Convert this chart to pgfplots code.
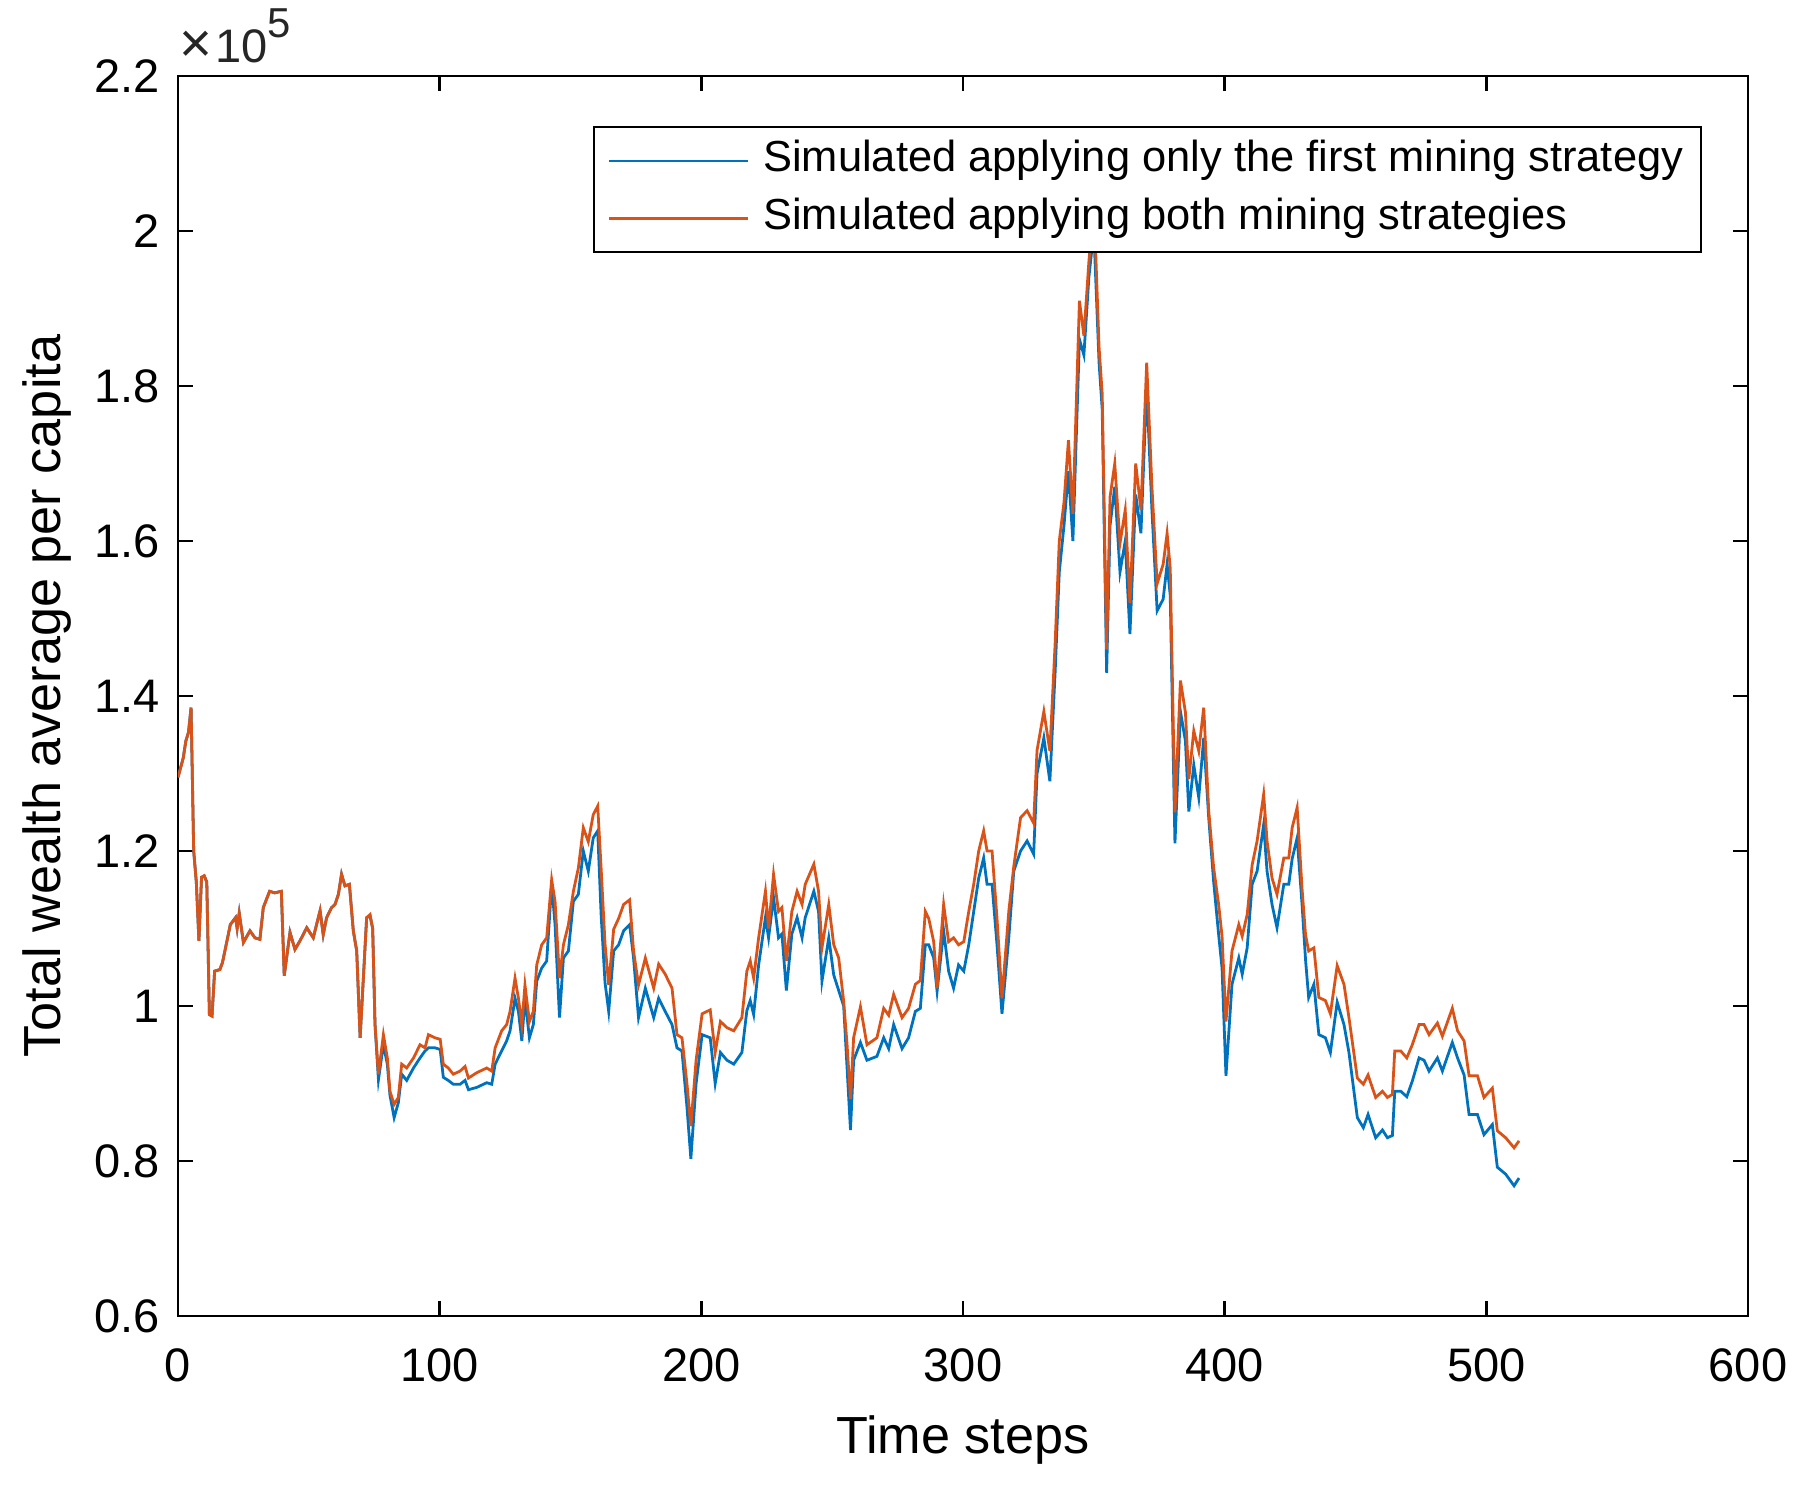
\documentclass[border=0pt]{standalone}
\usepackage{fontspec}
\setmainfont{Liberation Sans}
\usepackage{pgfplots}
\usepackage{pgfplotstable}
\pgfplotsset{compat=1.18}
\definecolor{mblue}{rgb}{0,0.447,0.741}
\definecolor{morange}{rgb}{0.85,0.325,0.098}

\pgfplotstableread{
x y
0 1.295
2 1.32
3 1.342
4 1.353
5 1.385
6 1.20
7 1.16
8 1.084
9 1.166
10 1.168
11 1.16
12 0.989
13 0.987
14 1.045
16 1.047
17 1.056
20 1.105
22 1.114
22.6 1.10
23.4 1.12
25 1.082
27.5 1.097
29.4 1.088
31.3 1.086
32.6 1.127
35 1.148
37 1.146
39.5 1.148
40.6 1.039
42.8 1.095
44.7 1.073
46.6 1.084
49.2 1.101
51.7 1.088
54.3 1.123
55.5 1.092
56.8 1.114
58.7 1.127
60 1.131
61.3 1.144
62.5 1.17
63.8 1.155
65.5 1.157
67 1.097
68.3 1.071
69.6 0.959
72.1 1.114
73.4 1.116
74.4 1.10
75.3 0.976
76.6 0.905
78.5 0.950
80 0.925
81 0.885
82.6 0.856
84.2 0.875
85.5 0.912
87.4 0.904
90 0.920
92.5 0.933
94.4 0.942
95.7 0.946
98.2 0.946
100.2 0.944
101.4 0.908
103.3 0.904
105.2 0.899
107.8 0.899
109.7 0.904
111 0.892
114.2 0.895
118 0.901
119.9 0.899
121.2 0.925
123.7 0.942
125.6 0.955
126.9 0.968
128.8 1.010
130.1 0.993
131.4 0.955
132.6 1.010
134.3 0.959
135.8 0.976
137.1 1.032
139 1.049
140.9 1.058
142.8 1.157
144.1 1.105
145.8 0.985
147.3 1.062
149.2 1.071
151.1 1.135
153 1.144
154.9 1.200
156.8 1.174
158.7 1.217
160.4 1.226
161.7 1.118
163.2 1.030
164.6 0.993
166.5 1.071
168.4 1.079
170.3 1.097
172.6 1.105
174.1 1.062
176 0.985
178.6 1.023
181.8 0.985
183.7 1.010
186.2 0.993
188.8 0.976
190.7 0.946
192.6 0.942
194.5 0.870
196 0.803
198 0.900
200.3 0.963
203.4 0.959
205.3 0.900
207.3 0.940
209.8 0.930
212.4 0.925
215.5 0.940
217.4 0.994
218.7 1.007
220 0.989
221.9 1.053
224.5 1.114
225.7 1.088
227.6 1.140
229.5 1.088
230.8 1.093
232.5 1.020
234.6 1.093
236.6 1.114
238.5 1.088
239.7 1.114
243 1.148
244.8 1.122
246.1 1.032
248.7 1.088
250.6 1.040
252.5 1.020
254.4 1.000
255.7 0.920
257 0.840
258.2 0.930
260.8 0.953
263.3 0.930
267.1 0.935
269.7 0.959
271.6 0.945
273.5 0.976
276.7 0.945
279.2 0.959
281.8 0.993
283.7 0.997
285.6 1.079
286.9 1.079
288.8 1.062
290.1 1.019
292.6 1.097
294.5 1.045
296.4 1.023
298.3 1.053
300.3 1.045
302.2 1.079
304.1 1.122
306 1.165
307.9 1.191
309.2 1.157
311.1 1.157
313 1.079
314.9 0.990
317.5 1.088
319.4 1.174
322 1.200
324.5 1.213
327 1.196
328.3 1.300
330.9 1.346
333.2 1.290
335.2 1.430
336.8 1.560
338.6 1.620
340.3 1.690
342 1.600
344.5 1.860
346.2 1.840
348.1 1.940
350 2.000
352 1.830
353.2 1.770
354.9 1.430
356.2 1.620
358 1.670
360 1.560
362 1.600
363.8 1.480
366 1.660
368 1.610
370.2 1.800
372.2 1.640
374.2 1.510
376.5 1.525
378 1.570
379.2 1.530
381 1.210
383.1 1.380
385 1.342
386.3 1.251
388.2 1.311
390.1 1.269
392 1.346
393.9 1.243
395.8 1.160
397.7 1.092
399 1.049
400.5 0.910
402.8 1.028
405.4 1.062
406.7 1.041
408.6 1.075
410.5 1.157
412.4 1.174
414.9 1.234
416.2 1.174
418.1 1.131
420 1.101
422.6 1.157
424.5 1.157
425.8 1.190
427.7 1.217
429.6 1.130
430.9 1.060
432.1 1.011
434.1 1.028
436 0.963
438.5 0.959
440.4 0.940
443 1.005
445.6 0.976
447.5 0.940
450.7 0.856
453 0.843
454.8 0.860
457.7 0.830
460.3 0.840
462.2 0.830
464.1 0.833
465 0.890
467.3 0.890
469.6 0.883
471.7 0.903
474.3 0.933
476.2 0.930
478.1 0.916
481.3 0.933
483.2 0.916
487 0.953
489 0.933
491.5 0.911
493.4 0.860
496.6 0.860
499.1 0.834
502.3 0.847
504.2 0.792
507.4 0.783
510.6 0.768
512.5 0.778
}\first

\pgfplotstableread{
x y
0 1.295
2 1.32
3 1.342
4 1.353
5 1.385
6 1.20
7 1.16
8 1.084
9 1.166
10 1.168
11 1.16
12 0.989
13 0.987
14 1.045
16 1.047
17 1.056
20 1.105
22 1.114
22.6 1.10
23.4 1.12
25 1.082
27.5 1.097
29.4 1.088
31.3 1.086
32.6 1.127
35 1.148
37 1.146
39.5 1.148
40.6 1.039
42.8 1.095
44.7 1.073
46.6 1.084
49.2 1.101
51.7 1.088
54.3 1.123
55.5 1.092
56.8 1.114
58.7 1.127
60 1.131
61.3 1.144
62.5 1.17
63.8 1.155
65.5 1.157
67 1.097
68.3 1.071
69.6 0.959
72.1 1.114
73.4 1.118
74.4 1.10
75.3 0.976
76.6 0.912
78.5 0.963
80 0.933
81 0.890
82.6 0.873
84.2 0.882
85.5 0.925
87.4 0.920
90 0.933
92.5 0.950
94.4 0.946
95.7 0.963
98.2 0.959
100.2 0.957
101.4 0.925
103.3 0.920
105.2 0.912
107.8 0.916
109.7 0.922
111 0.907
114.2 0.914
118 0.920
119.9 0.916
121.2 0.946
123.7 0.968
125.6 0.976
126.9 0.993
128.8 1.036
130.1 1.010
131.4 0.976
132.6 1.027
134.3 0.980
135.8 0.993
137.1 1.053
139 1.079
140.9 1.088
142.8 1.163
144.1 1.135
145.8 1.036
147.3 1.079
149.2 1.105
151.1 1.148
153 1.178
154.9 1.230
156.8 1.212
158.7 1.247
160.4 1.258
161.7 1.178
163.2 1.080
164.6 1.027
166.5 1.099
168.4 1.113
170.3 1.131
172.6 1.137
174.1 1.071
176 1.027
178.6 1.062
181.8 1.023
183.7 1.054
186.2 1.041
188.8 1.023
190.7 0.963
192.6 0.959
194.5 0.900
196 0.845
198 0.930
200.3 0.990
203.4 0.995
205.3 0.940
207.3 0.980
209.8 0.972
212.4 0.968
215.5 0.985
217.4 1.045
218.7 1.058
220 1.036
221.9 1.088
224.5 1.148
225.7 1.100
227.6 1.170
229.5 1.122
230.8 1.127
232.5 1.058
234.6 1.122
236.6 1.148
238.5 1.131
239.7 1.157
243 1.183
244.8 1.148
246.1 1.075
248.7 1.131
250.6 1.079
252.5 1.062
254.4 1.006
255.7 0.950
257 0.880
258.2 0.959
260.8 0.999
263.3 0.950
267.1 0.959
269.7 0.997
271.6 0.988
273.5 1.015
276.7 0.985
279.2 0.997
281.8 1.028
283.7 1.033
285.6 1.122
286.9 1.113
288.8 1.083
290.1 1.023
292.6 1.131
294.5 1.083
296.4 1.088
298.3 1.079
300.3 1.083
302.2 1.122
304.1 1.157
306 1.200
307.9 1.226
309.2 1.200
311.1 1.200
313 1.113
314.9 1.010
317.5 1.122
319.4 1.180
322 1.243
324.5 1.252
327 1.236
328.3 1.330
330.9 1.380
333.2 1.329
335.2 1.467
336.8 1.600
338.6 1.650
340.3 1.730
342 1.635
344.5 1.910
346.2 1.865
348.1 1.960
350 2.040
352 1.850
353.2 1.790
354.9 1.460
356.2 1.657
358 1.700
360 1.597
362 1.640
363.8 1.520
366 1.700
368 1.640
370.2 1.830
372.2 1.670
374.2 1.545
376.5 1.570
378 1.610
379.2 1.565
381 1.250
383.1 1.420
385 1.379
386.3 1.293
388.2 1.355
390.1 1.329
392 1.385
393.9 1.252
395.8 1.178
397.7 1.131
399 1.090
400.5 0.980
402.8 1.071
405.4 1.105
406.7 1.090
408.6 1.118
410.5 1.182
412.4 1.213
414.9 1.273
416.2 1.213
418.1 1.165
420 1.144
422.6 1.191
424.5 1.191
425.8 1.230
427.7 1.256
429.6 1.150
430.9 1.092
432.1 1.071
434.1 1.075
436 1.011
438.5 1.007
440.4 0.990
443 1.052
445.6 1.028
447.5 0.985
450.7 0.907
453 0.899
454.8 0.911
457.7 0.882
460.3 0.890
462.2 0.882
464.1 0.886
465 0.942
467.3 0.942
469.6 0.933
471.7 0.950
474.3 0.976
476.2 0.976
478.1 0.963
481.3 0.978
483.2 0.961
487 0.997
489 0.968
491.5 0.955
493.4 0.910
496.6 0.910
499.1 0.882
502.3 0.894
504.2 0.839
507.4 0.830
510.6 0.817
512.5 0.826
}\both

\begin{document}
\begin{tikzpicture}
\begin{axis}[
  name=ax,
  scale only axis, width=392.5bp, height=310bp,
  at={(0,0)}, anchor=south west,
  xmin=0, xmax=600, ymin=0.6, ymax=2.2,
  xtick={0,100,200,300,400,500,600},
  ytick={0.6,0.8,1,1.2,1.4,1.6,1.8,2,2.2},
  tick align=inside,
  major tick length=3.75bp,
  axis line style={line width=0.6pt},
  every tick/.style={line width=0.6pt, black},
  /pgf/number format/assume math mode=true,
  ticklabel style={font=\fontsize{11.8}{14}\selectfont},
  xticklabel style={yshift=-4.6bp},
  yticklabel style={xshift=-1.1bp},
  label style={font=\fontsize{13.1}{15}\selectfont},
  xlabel={Time steps},
  ylabel={Total wealth average per capita},
  xlabel style={at={(axis description cs:0.5,-0.1)}, anchor=center},
  ylabel style={at={(axis description cs:-0.0835,0.5)}, anchor=center},
  legend cell align=left,
  legend style={at={(rel axis cs:0.9707,0.9597)}, anchor=north east,
    draw=black, line width=0.6pt, fill=white,
    font=\fontsize{10.9}{13}\selectfont,
    inner xsep=2.5bp, inner ysep=2.3bp, row sep=2bp,
    nodes={inner xsep=1.9bp, inner ysep=1.2bp, text height=7.7bp, text depth=2.2bp}},
  legend image code/.code={\path (-0.9bp,0bp) (36.3bp,0bp); \draw[#1] (0bp,0bp) -- (34.6bp,0bp);},
]
\addplot[mblue, line width=0.7pt] table[x=x,y=y] {\first};
\addlegendentry{Simulated applying only the first mining strategy}
\addplot[morange, line width=0.7pt] table[x=x,y=y] {\both};
\addlegendentry{Simulated applying both mining strategies}
\end{axis}
\node[anchor=base west, inner sep=0pt, xshift=0.3bp, yshift=3.25bp,
  font=\fontsize{11.8}{14}\selectfont, text=black!85]
  at (ax.north west)
  {\scalebox{1.2}{×}\hspace{0.6bp}10\raisebox{6.3bp}{\fontsize{10.5}{12}\selectfont 5}};
\pgfresetboundingbox
\useasboundingbox (-44.5bp,-43.25bp) rectangle (406.5bp,329bp);
\end{tikzpicture}
\end{document}
